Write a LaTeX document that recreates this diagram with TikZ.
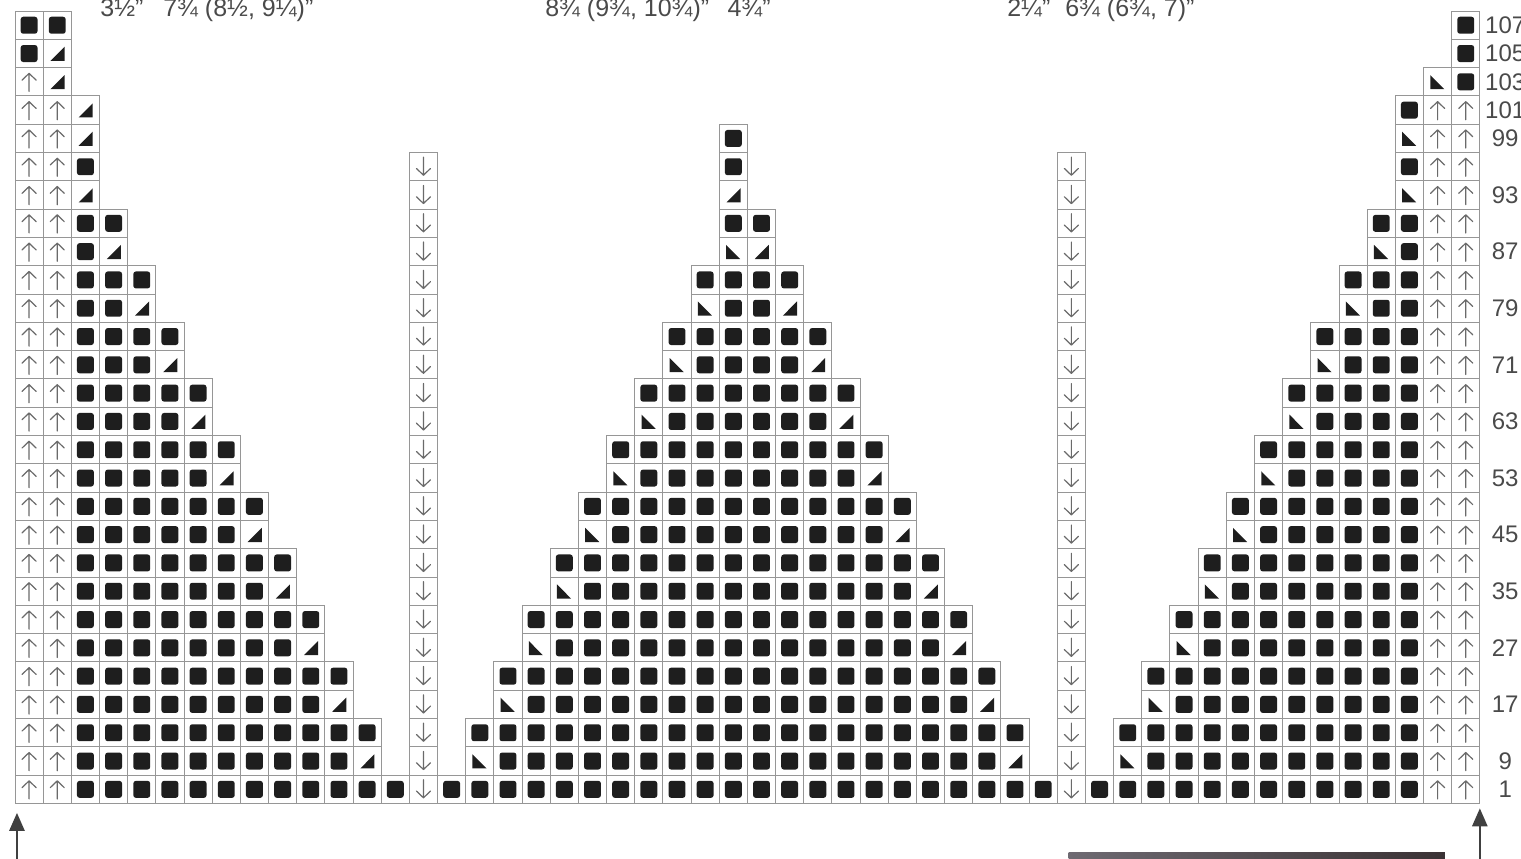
\documentclass[tikz,border=0pt]{standalone}
\usepackage{fontspec}
\setmainfont{Liberation Sans}
\usetikzlibrary{arrows.meta}
\definecolor{ink}{HTML}{1E1E1E}
\definecolor{rule}{HTML}{969696}
\definecolor{pen}{HTML}{6A6A6A}
\definecolor{lbl}{HTML}{4A4A4A}
\definecolor{photoa}{HTML}{6E6A72}
\definecolor{photob}{HTML}{7A5A4C}
\definecolor{photoc}{HTML}{3A3234}
\tikzset{
  gridline/.style={draw=rule, line width=0.5pt},
  stitch/.style={fill=ink},
  turn/.style={draw=pen, line width=0.6pt, line cap=round, line join=round},
  rownum/.style={font=\fontsize{12}{14}\selectfont, text=lbl, inner sep=0pt},
  sizelbl/.style={font=\fontsize{12.5}{14}\selectfont, text=lbl, inner sep=0pt, anchor=base west},
  feed/.style={draw=ink!85, line width=1.3pt, -{Triangle[width=7.5pt,length=9pt]}}
}
\newcommand{\cellF}[2]{\draw[gridline] (#1,#2) rectangle ++(1,1);
  \fill[stitch, rounded corners=1.3pt] (#1+0.2,#2+0.2) rectangle (#1+0.8,#2+0.8);}
\newcommand{\cellR}[2]{\draw[gridline] (#1,#2) rectangle ++(1,1);
  \fill[stitch] (#1+0.26,#2+0.24) -- (#1+0.76,#2+0.24) -- (#1+0.76,#2+0.74) -- cycle;}
\newcommand{\cellL}[2]{\draw[gridline] (#1,#2) rectangle ++(1,1);
  \fill[stitch] (#1+0.24,#2+0.74) -- (#1+0.24,#2+0.24) -- (#1+0.74,#2+0.24) -- cycle;}
\newcommand{\cellU}[2]{\draw[gridline] (#1,#2) rectangle ++(1,1);
  \draw[turn] (#1+0.5,#2+0.16) -- (#1+0.5,#2+0.8) (#1+0.25,#2+0.56) -- (#1+0.5,#2+0.8) -- (#1+0.75,#2+0.56);}
\newcommand{\cellD}[2]{\draw[gridline] (#1,#2) rectangle ++(1,1);
  \draw[turn] (#1+0.5,#2+0.84) -- (#1+0.5,#2+0.2) (#1+0.25,#2+0.44) -- (#1+0.5,#2+0.2) -- (#1+0.75,#2+0.44);}

\begin{document}
\begin{tikzpicture}[x=14.085pt,y=14.15pt]
  \useasboundingbox (-0.5325,-1.926) rectangle (53.461,28.392);
  \clip (-0.5325,-1.926) rectangle (53.461,28.392);
  % left panel
  \foreach \rowi in {0,...,24} {\cellU{0}{\rowi} \cellU{1}{\rowi}}
  \cellU{0}{25} \cellR{1}{25}
  \cellF{0}{26} \cellR{1}{26}
  \cellF{0}{27} \cellF{1}{27}
  \foreach \k in {0,...,10} {
    \pgfmathtruncatemacro{\rowi}{2*\k}
    \pgfmathtruncatemacro{\colz}{13-\k}
    \foreach \c in {2,...,\colz} {\cellF{\c}{\rowi}}
  }
  \foreach \k in {0,...,9} {
    \pgfmathtruncatemacro{\rowi}{2*\k+1}
    \pgfmathtruncatemacro{\colz}{11-\k}
    \pgfmathtruncatemacro{\colt}{12-\k}
    \foreach \c in {2,...,\colz} {\cellF{\c}{\rowi}}
    \cellR{\colt}{\rowi}
  }
  \cellR{2}{21} \cellF{2}{22} \cellR{2}{23} \cellR{2}{24}
  % slipped columns
  \foreach \rowi in {0,...,22} {\cellD{14}{\rowi} \cellD{37}{\rowi}}
  % centre panel
  \foreach \c in {15,...,36} {\cellF{\c}{0}}
  \foreach \k in {1,...,10} {
    \pgfmathtruncatemacro{\rowi}{2*\k}
    \pgfmathtruncatemacro{\cola}{15+\k}
    \pgfmathtruncatemacro{\colz}{36-\k}
    \foreach \c in {\cola,...,\colz} {\cellF{\c}{\rowi}}
  }
  \foreach \k in {0,...,8} {
    \pgfmathtruncatemacro{\rowi}{2*\k+1}
    \pgfmathtruncatemacro{\colt}{16+\k}
    \pgfmathtruncatemacro{\cola}{17+\k}
    \pgfmathtruncatemacro{\colz}{34-\k}
    \pgfmathtruncatemacro{\colu}{35-\k}
    \cellL{\colt}{\rowi}
    \foreach \c in {\cola,...,\colz} {\cellF{\c}{\rowi}}
    \cellR{\colu}{\rowi}
  }
  \cellL{25}{19} \cellR{26}{19}
  \cellR{25}{21} \cellF{25}{22} \cellF{25}{23}
  % right panel
  \foreach \rowi in {0,...,24} {\cellU{50}{\rowi} \cellU{51}{\rowi}}
  \cellL{50}{25} \cellF{51}{25} \cellF{51}{26} \cellF{51}{27}
  \foreach \k in {0,...,10} {
    \pgfmathtruncatemacro{\rowi}{2*\k}
    \pgfmathtruncatemacro{\cola}{38+\k}
    \foreach \c in {\cola,...,49} {\cellF{\c}{\rowi}}
  }
  \foreach \k in {0,...,9} {
    \pgfmathtruncatemacro{\rowi}{2*\k+1}
    \pgfmathtruncatemacro{\colt}{39+\k}
    \pgfmathtruncatemacro{\cola}{40+\k}
    \cellL{\colt}{\rowi}
    \foreach \c in {\cola,...,49} {\cellF{\c}{\rowi}}
  }
  \cellL{49}{21} \cellF{49}{22} \cellL{49}{23} \cellF{49}{24}
  % row numbers
  \foreach \n/\rowi in {1/0,9/1,17/3,27/5,35/7,45/9,53/11,63/13,71/15,79/17,87/19,93/21,99/23,101/24,103/25,105/26,107/27}
    {\node[rownum] (row\n) at (52.9,\rowi+0.5) {\n};}
  % widths
  \node[sizelbl] (wa) at (3.02,27.8) {3½"};
  \node[sizelbl] (wb) at (5.25,27.8) {7¾ (8½, 9¼)"};
  \node[sizelbl] (wc) at (18.81,27.8) {8¾ (9¾, 10¾)"};
  \node[sizelbl] (wd) at (25.28,27.8) {4¾"};
  \node[sizelbl] (we) at (35.21,27.8) {2¼"};
  \node[sizelbl] (wf) at (37.27,27.8) {6¾ (6¾, 7)"};
  % direction of work
  \coordinate (feedL) at (0.07,-2.1);
  \coordinate (feedLtip) at (0.07,-0.33);
  \coordinate (feedR) at (52.0,-2.1);
  \coordinate (feedRtip) at (52.0,-0.17);
  \draw[feed] (feedL) -- (feedLtip);
  \draw[feed] (feedR) -- (feedRtip);
  \shade[left color=photoa, middle color=photob, right color=photoc] (37.4,-1.74) rectangle (50.76,-2);
\end{tikzpicture}
\end{document}
